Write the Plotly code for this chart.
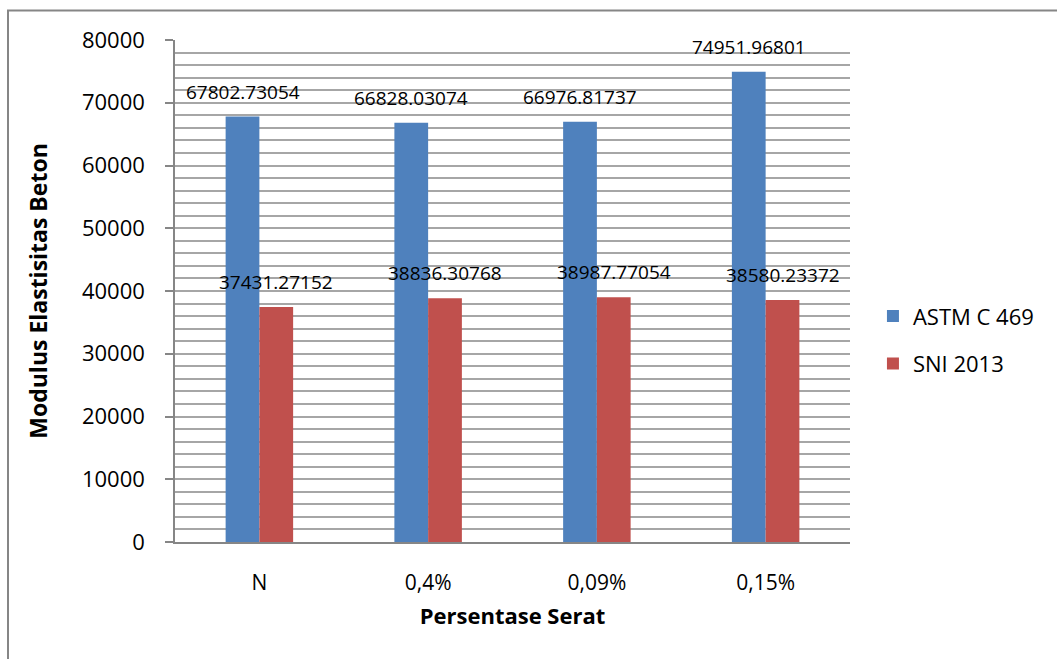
import plotly.graph_objects as go

# Modulus elastisitas beton per persentase serat
categories = ["N", "0,4%", "0,09%", "0,15%"]
astm_values = [67802.73054, 66828.03074, 66976.81737, 74951.96801]
sni_values = [37431.27152, 38836.30768, 38987.77054, 38580.23372]
astm_labels = ["67802.73054", "66828.03074", "66976.81737", "74951.96801"]
sni_labels = ["37431.27152", "38836.30768", "38987.77054", "38580.23372"]
y_ticks = [0, 10000, 20000, 30000, 40000, 50000, 60000, 70000, 80000]
y_tick_text = ["0", "10000", "20000", "30000", "40000", "50000", "60000",
               "70000", "80000"]

FONT = "Open Sans"
BLUE = "#4F81BD"
RED = "#C0504D"
GRID = "#A6A6A6"
AXIS = "#868686"

fig = go.Figure()
fig.add_trace(go.Bar(name="ASTM C 469", x=categories, y=astm_values,
                     marker=dict(color=BLUE, line=dict(width=0)),
                     legendgroup="a"))
fig.add_trace(go.Bar(name="SNI 2013", x=categories, y=sni_values,
                     marker=dict(color=RED, line=dict(width=0)),
                     legendgroup="b"))

# value labels above each bar
bar_px = 675 / 4 * (1 - 0.6) / 2
annotations = []
for cat, v, t in zip(categories, astm_values, astm_labels):
    annotations.append(dict(x=cat, y=v, text=t, xref="x", yref="y",
                            showarrow=False, xshift=-bar_px / 2, yshift=25,
                            yanchor="middle",
                            font=dict(family=FONT, size=19, color="black")))
for cat, v, t in zip(categories, sni_values, sni_labels):
    annotations.append(dict(x=cat, y=v, text=t, xref="x", yref="y",
                            showarrow=False, xshift=bar_px / 2, yshift=25,
                            yanchor="middle",
                            font=dict(family=FONT, size=19, color="black")))

fig.update_layout(
    width=1057, height=659,
    margin=dict(l=175, r=207, t=40, b=117),
    paper_bgcolor="white", plot_bgcolor="white",
    barmode="group", bargap=0.6, bargroupgap=0,
    font=dict(family=FONT, color="black"),
    annotations=annotations,
    showlegend=True,
    legend=dict(x=1.034, y=0.402, yanchor="middle", xanchor="left",
                font=dict(family=FONT, size=22, color="black"),
                tracegroupgap=16, bgcolor="rgba(0,0,0,0)"),
    shapes=[dict(type="rect", xref="paper", yref="paper",
                 x0=-0.2474, x1=1.32, y0=-0.26, y1=1.0587,
                 line=dict(color=AXIS, width=2), fillcolor="rgba(0,0,0,0)",
                 layer="below")],
)

fig.update_xaxes(
    showline=True, linecolor=AXIS, linewidth=2,
    showgrid=False, ticks="", ticklabelstandoff=21,
    tickfont=dict(family=FONT, size=21, color="black"),
    title=dict(text="<b>Persentase Serat</b>", standoff=13,
               font=dict(family=FONT, size=22, color="black")),
)
fig.update_yaxes(
    range=[0, 80000], tickvals=y_ticks, ticktext=y_tick_text,
    showline=True, linecolor=AXIS, linewidth=1.5,
    showgrid=True, gridcolor=GRID, gridwidth=1.5,
    zeroline=False,
    ticks="outside", ticklen=8, tickcolor=AXIS, tickwidth=1.5,
    ticklabelstandoff=16,
    minor=dict(dtick=2000, showgrid=True, gridcolor=GRID, gridwidth=1.5,
               ticks=""),
    tickfont=dict(family=FONT, size=22, color="black"),
    title=dict(text="<b>Modulus Elastisitas Beton</b>", standoff=28,
               font=dict(family=FONT, size=23, color="black")),
)

fig.write_html("out.html")
